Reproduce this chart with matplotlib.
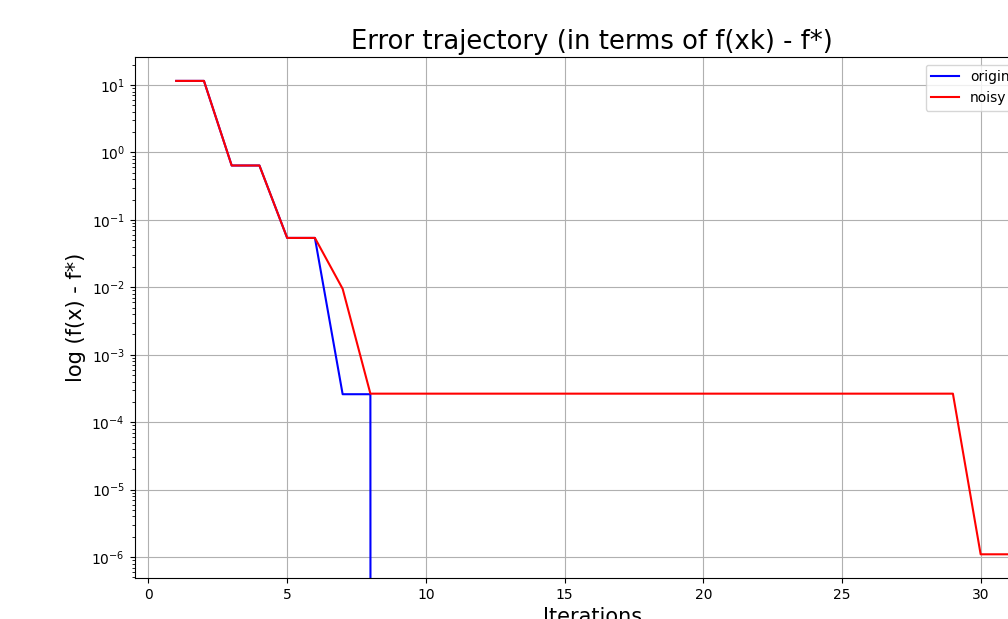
import numpy as np
import matplotlib
matplotlib.use("Agg")
import matplotlib.pyplot as plt

# ---------------------------
# data (f(xk) - f*) per iteration
# ---------------------------
iters = np.arange(1, 32)

original = [11.5, 11.5, 0.64, 0.64, 0.054, 0.054, 2.6e-4, 2.6e-4] + [0.0] * 23
noisy = ([11.5, 11.5, 0.64, 0.64, 0.054, 0.054, 0.0095]
         + [2.65e-4] * 22
         + [1.1e-6, 1.1e-6])

# ---------------------------
# figure (axes run past the right edge, like the reference crop)
# ---------------------------
W, H = 1008, 619
fig = plt.figure(figsize=(W / 100, H / 100), dpi=100)
ax = fig.add_axes([134.6 / W, (H - 578) / H, (1050 - 134.6) / W, (578 - 57) / H])

ax.plot(iters, original, color="blue", label="original")
ax.plot(iters, noisy, color="red", label="noisy")
ax.set_yscale("log")
ax.set_xlim(-0.5, 32.5)
ax.set_ylim(10 ** -6.31, 10 ** 1.415)

ax.set_title("Error trajectory (in terms of f(xk) - f*)", fontsize=18.6)
ax.set_xlabel("Iterations", fontsize=15)
ax.set_ylabel("log (f(x) - f*)", fontsize=15)
ax.grid(True)
ax.legend(loc="upper left", bbox_to_anchor=(925.5 / W, 1 - 64.5 / H),
          bbox_transform=fig.transFigure, borderaxespad=0)

fig.savefig("out.png", dpi=100)
